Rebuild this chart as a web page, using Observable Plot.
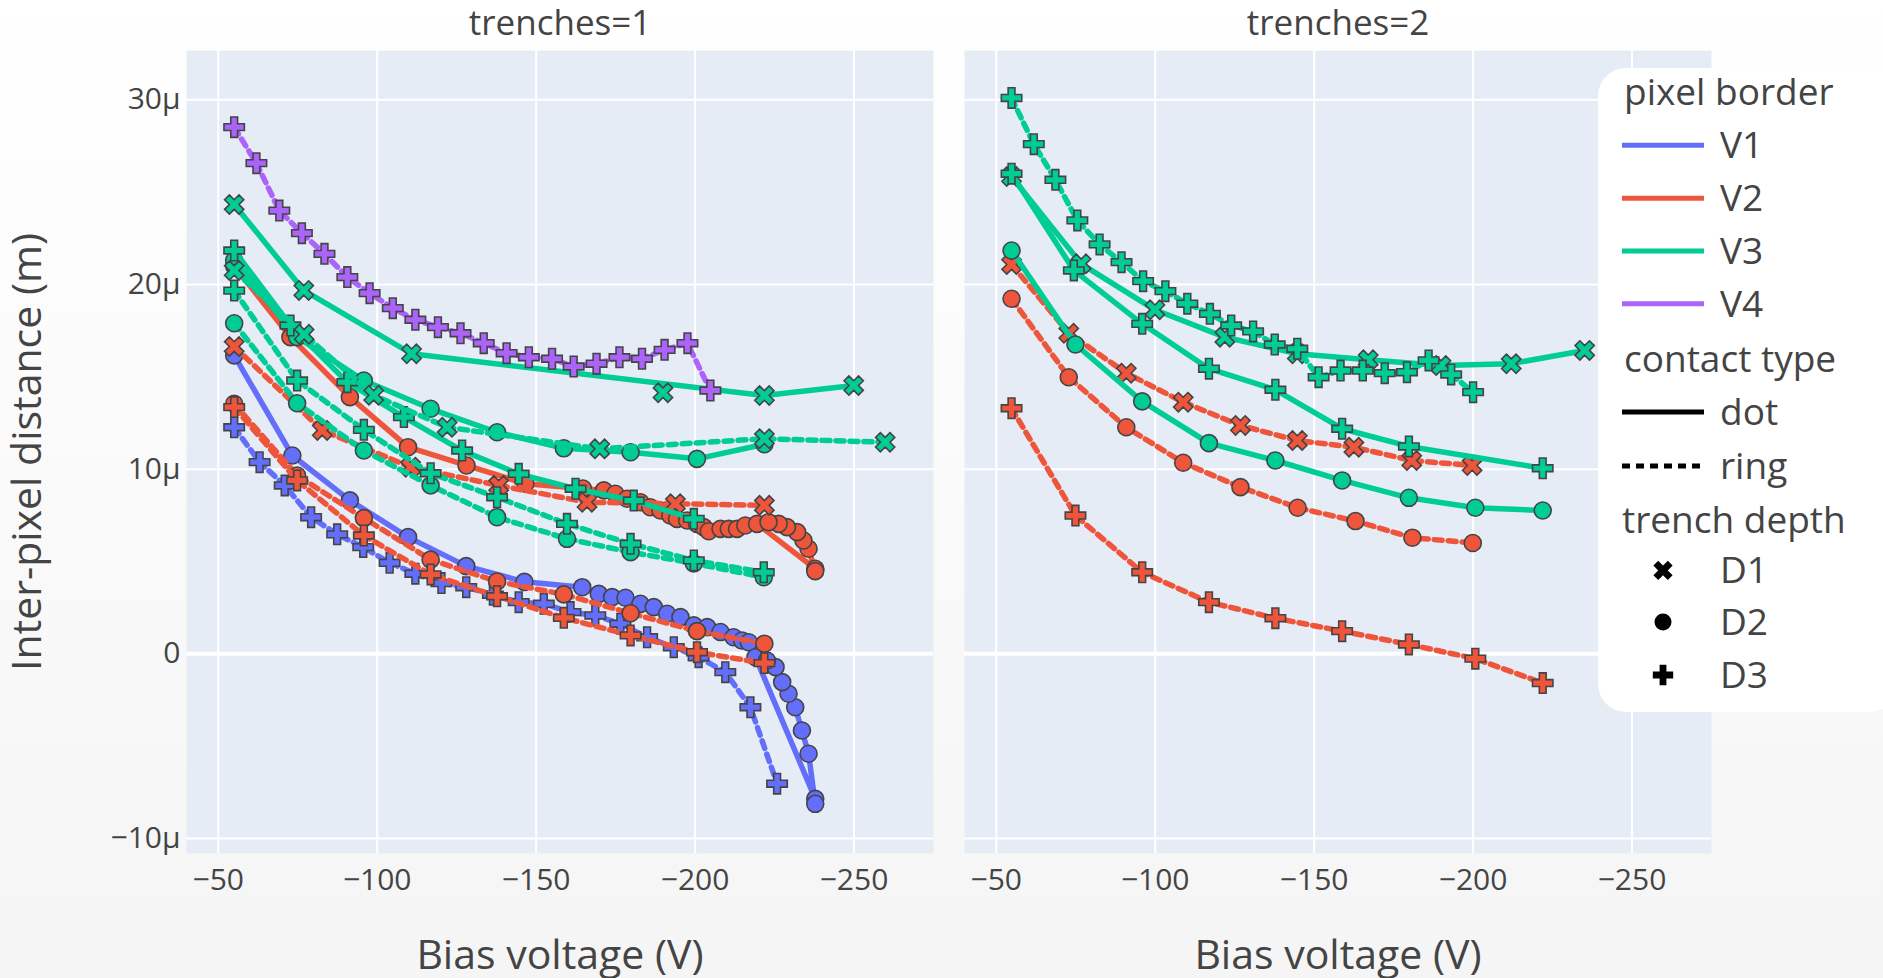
<!DOCTYPE html>
<html><head><meta charset="utf-8">
<script src="https://cdn.jsdelivr.net/npm/d3@7"></script>
<script src="https://cdn.jsdelivr.net/npm/@observablehq/plot@0.6"></script>
<style>
html,body{margin:0;padding:0;}
body{width:1883px;height:978px;overflow:hidden;background:linear-gradient(#ffffff,#f5f5f5);color:#444;}
#wrap{position:relative;width:1883px;height:978px;}
.panel{position:absolute;top:0;}
#legend{position:absolute;left:1598px;top:68px;width:300px;height:644px;background:#fff;border-radius:28px;}
</style></head>
<body><div id="wrap"><div id="p1" class="panel" style="left:0px"></div><div id="p2" class="panel" style="left:948px"></div><div id="legend"></div></div>
<script>
const FONT = "'Open Sans', sans-serif";
// ---- tick values ----
const xTicks = [-50, -100, -150, -200, -250];
const yTicks = [-10, 0, 10, 20, 30];
const panels = [1, 2];
const borders = ["V1", "V2", "V3", "V4"];
const borderColors = ["#636EFA", "#EF553B", "#00CC96", "#AB63FA"];
const contacts = ["dot", "ring"];
const depths = ["D1", "D2", "D3"];

// ---- data: [bias voltage (V), inter-pixel distance (µm)] ----
// trenches = 1
const T1_V1_dot_D2 = [[-55,16.16],[-73.3,10.74],[-91.4,8.31],[-109.7,6.32],[-128,4.75],[-146.3,3.9],[-164.5,3.61],[-169.7,3.25],[-173.9,3.07],[-178.1,3.04],[-182.8,2.71],[-187,2.53],[-191.2,2.17],[-195.4,1.99],[-199.6,1.54],[-203.8,1.45],[-208,1.18],[-212.1,0.9],[-214.8,0.72],[-216.9,0.63],[-219,-0.18],[-237.8,-7.85],[-237.8,-8.12],[-235.7,-5.41],[-233.6,-4.15],[-231.5,-2.89],[-229.4,-2.16],[-227.4,-1.53],[-225.3,-0.72],[-222.6,-0.36]];
const T1_V1_ring_D3 = [[-55,12.27],[-63,10.38],[-70.9,9.12],[-79.2,7.4],[-87.4,6.47],[-95.6,5.78],[-103.9,4.93],[-112,4.34],[-120.2,3.83],[-128,3.61],[-136.4,3.2],[-144.5,2.8],[-152.4,2.71],[-160.8,2.26],[-168.6,2.08],[-176.5,1.63],[-184.9,0.9],[-193.3,0.36],[-201.1,-0.18],[-209.5,-0.99],[-217.4,-2.89],[-225.8,-7.03]];
const T1_V2_dot_D2 = [[-55,21.0],[-72.7,17.15],[-91.4,13.9],[-109.7,11.19],[-128.1,10.2],[-146.6,9.21],[-164.7,8.95],[-171.3,8.85],[-174.9,8.67],[-178.6,8.4],[-182.8,8.21],[-185.9,7.94],[-189.1,7.76],[-192.2,7.49],[-194.3,7.31],[-197.5,7.22],[-200.6,7.04],[-202.7,6.86],[-204.3,6.64],[-208,6.77],[-210.6,6.77],[-213.2,6.77],[-215.8,6.95],[-219.5,7.04],[-237.8,4.61],[-237.8,4.48],[-235.7,5.69],[-234.1,6.14],[-232.1,6.59],[-228.9,6.86],[-226.3,7.04],[-223.1,7.13]];
const T1_V2_ring_D1 = [[-55,16.64],[-82.7,12.1],[-110.5,10.11],[-138.2,9.12],[-166,8.21],[-193.8,8.13],[-221.8,8.04]];
const T1_V2_ring_D2 = [[-55,13.54],[-74.8,9.66],[-95.8,7.35],[-116.8,5.1],[-137.7,3.92],[-158.7,3.22],[-179.7,2.2],[-200.6,1.23],[-221.8,0.55]];
const T1_V2_ring_D3 = [[-55,13.36],[-74.8,9.39],[-95.8,6.41],[-116.8,4.3],[-137.7,3.12],[-158.7,1.95],[-179.7,1.0],[-200.6,0.09],[-221.8,-0.5]];
const T1_V3_dot_D1 = [[-55,24.33],[-76.9,19.68],[-110.8,16.25],[-221.8,13.99],[-249.9,14.53]];
const T1_V3_dot_D1b = [[-189.9,14.14]];
const T1_V3_dot_D2 = [[-55,21.3],[-74.8,17.15],[-95.8,14.8],[-116.8,13.27],[-137.7,12.0],[-158.7,11.13],[-179.7,10.92],[-200.6,10.56],[-221.8,11.35]];
const T1_V3_dot_D3 = [[-55,21.84],[-72.7,17.78],[-90.6,14.71],[-108.4,12.82],[-126.7,11.01],[-144.5,9.75],[-162.4,8.94],[-180.7,8.3],[-199.6,7.31]];
const T1_V3_ring_D1 = [[-55,20.76],[-77,17.3],[-98.9,14.0],[-122,12.27],[-170,11.1],[-221.8,11.65],[-259.8,11.46]];
const T1_V3_ring_D2 = [[-55,17.9],[-74.8,13.57],[-95.8,11.01],[-116.8,9.12],[-137.7,7.4],[-159.7,6.23],[-179.7,5.51],[-199.6,4.9],[-221.6,4.15]];
const T1_V3_ring_D3 = [[-55,19.67],[-74.8,14.8],[-95.8,12.13],[-116.8,9.78],[-137.7,8.48],[-159.7,7.04],[-179.7,5.96],[-199.6,5.06],[-221.6,4.42]];
const T1_V4_ring_D3 = [[-55,28.52],[-62,26.57],[-69.2,24.0],[-76.3,22.78],[-83.4,21.66],[-90.6,20.4],[-97.6,19.53],[-104.9,18.72],[-112,18.09],[-119.1,17.69],[-126.2,17.36],[-133.5,16.82],[-140.7,16.28],[-147.7,16.06],[-155,15.98],[-161.8,15.56],[-169,15.71],[-176.2,16.06],[-183.3,15.98],[-190.4,16.46],[-197.6,16.82],[-204.8,14.26]];
// trenches = 2
const T2_V2_ring_D1 = [[-54.8,21.08],[-72.8,17.36],[-90.9,15.2],[-108.8,13.63],[-126.8,12.37],[-144.7,11.55],[-162.5,11.19],[-180.7,10.47],[-199.7,10.2]];
const T2_V2_ring_D2 = [[-54.8,19.23],[-72.8,14.98],[-90.9,12.27],[-108.8,10.35],[-126.8,9.03],[-144.8,7.91],[-163,7.19],[-180.9,6.29],[-199.9,6.0]];
const T2_V2_ring_D3 = [[-54.8,13.3],[-74.9,7.49],[-95.9,4.42],[-116.9,2.8],[-137.8,1.93],[-158.8,1.23],[-179.8,0.51],[-200.7,-0.26],[-221.9,-1.58]];
const T2_V3_dot_D1 = [[-54.8,25.85],[-76.7,21.12],[-99.9,18.63],[-121.9,17.15],[-144.7,16.25],[-167,15.92],[-189.9,15.61],[-212,15.71],[-235.1,16.43]];
const T2_V3_dot_D2 = [[-54.8,21.84],[-74.9,16.75],[-95.9,13.67],[-116.9,11.41],[-137.8,10.47],[-158.8,9.39],[-179.8,8.45],[-200.7,7.91],[-221.9,7.76]];
const T2_V3_dot_D3 = [[-54.8,26.0],[-74.4,20.76],[-95.9,17.87],[-116.9,15.44],[-137.8,14.3],[-158.8,12.19],[-179.8,11.23],[-221.9,10.05]];
const T2_V3_ring_D3 = [[-54.8,30.1],[-61.8,27.6],[-68.6,25.67],[-75.5,23.47],[-82.5,22.17],[-89.4,21.21],[-96.2,20.18],[-103.2,19.64],[-110.1,18.96],[-117.2,18.41],[-123.9,17.78],[-130.8,17.46],[-137.6,16.75],[-144.7,16.52],[-151.4,14.98],[-158.3,15.34],[-165.3,15.34],[-172.2,15.2],[-179.2,15.25],[-186,15.89],[-193.1,15.13],[-200,14.17]];

const series = [
  {t:1, border:"V1", contact:"dot",  depth:"D2", pts:T1_V1_dot_D2},
  {t:1, border:"V1", contact:"ring", depth:"D3", pts:T1_V1_ring_D3},
  {t:1, border:"V2", contact:"dot",  depth:"D2", pts:T1_V2_dot_D2},
  {t:1, border:"V2", contact:"ring", depth:"D1", pts:T1_V2_ring_D1},
  {t:1, border:"V2", contact:"ring", depth:"D2", pts:T1_V2_ring_D2},
  {t:1, border:"V2", contact:"ring", depth:"D3", pts:T1_V2_ring_D3},
  {t:1, border:"V3", contact:"dot",  depth:"D1", pts:T1_V3_dot_D1},
  {t:1, border:"V3", contact:"dot",  depth:"D1", pts:T1_V3_dot_D1b},
  {t:1, border:"V3", contact:"dot",  depth:"D2", pts:T1_V3_dot_D2},
  {t:1, border:"V3", contact:"dot",  depth:"D3", pts:T1_V3_dot_D3},
  {t:1, border:"V3", contact:"ring", depth:"D1", pts:T1_V3_ring_D1},
  {t:1, border:"V3", contact:"ring", depth:"D2", pts:T1_V3_ring_D2},
  {t:1, border:"V3", contact:"ring", depth:"D3", pts:T1_V3_ring_D3},
  {t:1, border:"V4", contact:"ring", depth:"D3", pts:T1_V4_ring_D3},
  {t:2, border:"V2", contact:"ring", depth:"D1", pts:T2_V2_ring_D1},
  {t:2, border:"V2", contact:"ring", depth:"D2", pts:T2_V2_ring_D2},
  {t:2, border:"V2", contact:"ring", depth:"D3", pts:T2_V2_ring_D3},
  {t:2, border:"V3", contact:"dot",  depth:"D1", pts:T2_V3_dot_D1},
  {t:2, border:"V3", contact:"dot",  depth:"D2", pts:T2_V3_dot_D2},
  {t:2, border:"V3", contact:"dot",  depth:"D3", pts:T2_V3_dot_D3},
  {t:2, border:"V3", contact:"ring", depth:"D3", pts:T2_V3_ring_D3}
];

// ---- plotly-like marker symbols ----
const symCircle = {draw(ctx, size){ const r = Math.sqrt(size/Math.PI); ctx.moveTo(r,0); ctx.arc(0,0,r,0,2*Math.PI); ctx.closePath(); }};
const symCross = {draw(ctx, size){ const r = Math.sqrt(size/Math.PI); const c = 1.2*r, t = 0.4*r;
  const p = [[c,t],[t,t],[t,c],[-t,c],[-t,t],[-c,t],[-c,-t],[-t,-t],[-t,-c],[t,-c],[t,-t],[c,-t]];
  ctx.moveTo(p[0][0],p[0][1]); for (let i=1;i<p.length;i++) ctx.lineTo(p[i][0],p[i][1]); ctx.closePath(); }};
const symX = {draw(ctx, size){ const r = Math.sqrt(size/Math.PI); const a = r*0.8/Math.SQRT2;
  const p = [[0,a],[a,2*a],[2*a,a],[a,0],[2*a,-a],[a,-2*a],[0,-a],[-a,-2*a],[-2*a,-a],[-a,0],[-2*a,a],[-a,2*a]];
  ctx.moveTo(p[0][0],p[0][1]); for (let i=1;i<p.length;i++) ctx.lineTo(p[i][0],p[i][1]); ctx.closePath(); }};
const depthSymbols = {D1: symX, D2: symCircle, D3: symCross};
const colorOf = b => borderColors[borders.indexOf(b)];
const DASH = "8,6";
const LW = 5.5, R = 8.5;

const fmtV = d => "\u2212" + Math.abs(d);
const fmtY = d => d === 0 ? "0" : (d < 0 ? "\u2212" + Math.abs(d) : String(d)) + "\u03bc";

function panel(t, width, mL, mR, showY) {
  const marks = [
    Plot.frame({fill: "#E5ECF6", stroke: "none"}),
    Plot.ruleX(xTicks, {stroke: "white", strokeWidth: 2}),
    Plot.ruleY(yTicks.filter(d => d !== 0), {stroke: "white", strokeWidth: 2}),
    Plot.ruleY([0], {stroke: "white", strokeWidth: 4})
  ];
  for (const s of series.filter(s => s.t === t)) {
    const c = colorOf(s.border);
    marks.push(Plot.line(s.pts, {x: d => d[0], y: d => d[1], stroke: c, strokeWidth: LW,
      strokeDasharray: s.contact === "ring" ? DASH : undefined, strokeLinejoin: "round"}));
    marks.push(Plot.dot(s.pts, {x: d => d[0], y: d => d[1], r: R, symbol: depthSymbols[s.depth],
      fill: c, stroke: "#444", strokeWidth: 1.6}));
  }
  marks.push(Plot.text([`trenches=${t}`], {text: d => d, frameAnchor: "top", lineAnchor: "middle", dy: -27, fontSize: 35}));
  marks.push(Plot.text(["Bias voltage (V)"], {text: d => d, frameAnchor: "bottom", lineAnchor: "middle", dy: 102, fontSize: 41}));
  if (showY) marks.push(Plot.text(["Inter-pixel distance (m)"], {text: d => d, frameAnchor: "left", textAnchor: "middle", lineAnchor: "middle", dx: -159, rotate: -90, fontSize: 41}));
  return Plot.plot({
    width, height: 978, marginLeft: mL, marginRight: mR, marginTop: 50, marginBottom: 125,
    style: {background: "transparent", fontFamily: FONT, fontSize: "30px", color: "#444", overflow: "visible"},
    x: {domain: [-40, -275], ticks: xTicks, tickFormat: fmtV, tickSize: 0, tickPadding: 15, label: null},
    y: {domain: [-10.81, 32.67], ticks: yTicks, tickFormat: fmtY, tickSize: 0, tickPadding: 6, label: null, axis: showY ? "left" : null},
    marks
  });
}
document.getElementById("p1").appendChild(panel(panels[0], 948, 186, 15, true));
document.getElementById("p2").appendChild(panel(panels[1], 935, 16, 172, false));

// ---- legend ----
const L = d3.select("#legend").append("svg").attr("width", 300).attr("height", 644)
  .style("font-family", FONT).style("font-size", "37px").style("overflow", "visible");
function ltext(x, y, s) { L.append("text").attr("x", x).attr("y", y).attr("dy", "0.35em").attr("fill", "#444").text(s); }
ltext(26, 24.5, "pixel border");
const rowY = [77.3, 130.2, 183, 235.8];
borders.forEach((b, i) => {
  L.append("line").attr("x1", 24).attr("x2", 106).attr("y1", rowY[i]).attr("y2", rowY[i]).attr("stroke", borderColors[i]).attr("stroke-width", 5);
  ltext(122, rowY[i], b);
});
ltext(26, 291, "contact type");
const cY = [344, 398];
contacts.forEach((c, i) => {
  L.append("line").attr("x1", 24).attr("x2", 106).attr("y1", cY[i]).attr("y2", cY[i]).attr("stroke", "#000").attr("stroke-width", 5)
    .attr("stroke-dasharray", c === "ring" ? DASH : null);
  ltext(122, cY[i], c);
});
ltext(24, 452, "trench depth");
const dY = [502.4, 554, 607];
depths.forEach((d, i) => {
  const p = d3.path(); depthSymbols[d].draw(p, R * R * Math.PI);
  L.append("path").attr("d", p.toString()).attr("transform", `translate(65,${dY[i]})`).attr("fill", "#000");
  ltext(122, dY[i], d);
});
</script>
</body></html>
